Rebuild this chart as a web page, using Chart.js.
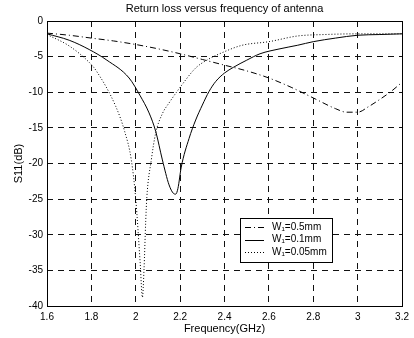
<!DOCTYPE html>
<html>
<head>
<meta charset="utf-8">
<script src="https://cdn.jsdelivr.net/npm/chart.js@4/dist/chart.umd.min.js"></script>
<style>
  html, body { margin: 0; padding: 0; background: #fff; }
  canvas { display: block; }
</style>
</head>
<body>
<canvas id="s11Chart" width="414" height="338"></canvas>
<script>
// values (frequency in GHz, S11 in dB)
const freqW05 = [1.6, 1.7, 1.8, 1.9, 2.0, 2.1, 2.2, 2.3, 2.4, 2.5, 2.6, 2.7, 2.8, 2.9, 2.95, 3.0, 3.05, 3.1, 3.15, 3.2];
const s11W05 = [-1.7, -2.0, -2.4, -2.8, -3.3, -3.9, -4.6, -5.4, -6.2, -7.0, -8.0, -9.3, -10.8, -12.3, -12.8, -12.8, -12.0, -11.0, -9.9, -8.6];

const freqW01 = [1.6, 1.7, 1.79, 1.87, 1.97, 2.02, 2.06, 2.09, 2.12, 2.15, 2.17, 2.18, 2.19, 2.205, 2.24, 2.27, 2.3, 2.33, 2.36, 2.4, 2.44, 2.5, 2.56, 2.65, 2.73, 2.8, 2.9, 3.0, 3.1, 3.2];
const s11W01 = [-1.8, -2.7, -4.0, -5.5, -8.0, -10.5, -12.9, -15.5, -19.5, -23.0, -24.2, -24.3, -23.5, -20.5, -16.5, -13.9, -11.8, -9.9, -8.5, -7.3, -6.5, -5.5, -4.6, -3.9, -3.4, -2.9, -2.4, -2.0, -1.9, -1.8];

const freqW005 = [1.6, 1.7, 1.79, 1.82, 1.91, 1.95, 1.98, 2.0, 2.02, 2.03, 2.037, 2.045, 2.05, 2.07, 2.09, 2.12, 2.15, 2.2, 2.27, 2.32, 2.4, 2.48, 2.6, 2.73, 2.85, 3.0, 3.2];
const s11W005 = [-1.9, -3.5, -5.8, -6.9, -12.0, -15.5, -19.5, -25.0, -34.0, -38.8, -35.0, -28.0, -24.7, -19.5, -15.7, -13.0, -11.5, -9.3, -6.6, -5.5, -4.3, -3.4, -2.9, -2.1, -1.9, -1.8, -1.8];

const seriesLabels = ['W\u2081=0.5mm', 'W\u2081=0.1mm', 'W\u2081=0.05mm'];
const xTicks = [1.6, 1.8, 2.0, 2.2, 2.4, 2.6, 2.8, 3.0, 3.2];
const yTicks = [0, -5, -10, -15, -20, -25, -30, -35, -40];

const FONT = 'Liberation Sans, Arial, Helvetica, sans-serif';

const toPoints = (xs, ys) => xs.map((x, i) => ({ x: x, y: ys[i] }));

// matlab style box round the axes + legend inside the plot
const boxAndLegend = {
  id: 'boxAndLegend',
  afterDraw(chart) {
    const ctx = chart.ctx;
    const a = chart.chartArea;
    ctx.save();
    ctx.strokeStyle = '#000';
    ctx.lineWidth = 1;
    ctx.setLineDash([]);
    ctx.strokeRect(Math.round(a.left) + 0.5, Math.round(a.top) + 0.5,
      Math.round(a.right - a.left), Math.round(a.bottom - a.top));

    // legend
    const lx = 240, ly = 218, lw = 92, lh = 44;
    ctx.fillStyle = '#fff';
    ctx.fillRect(lx, ly, lw, lh);
    ctx.strokeRect(lx + 0.5, ly + 0.5, lw, lh);
    ctx.font = '10px ' + FONT;
    ctx.textBaseline = 'middle';
    chart.data.datasets.forEach((ds, i) => {
      const y = ly + 9 + i * 12.5;
      ctx.strokeStyle = '#000';
      ctx.setLineDash(ds.borderDash || []);
      ctx.beginPath();
      ctx.moveTo(lx + 5, Math.round(y) + 0.5);
      ctx.lineTo(lx + 24, Math.round(y) + 0.5);
      ctx.stroke();
      ctx.setLineDash([]);
      ctx.fillStyle = '#000';
      ctx.fillText(ds.label, lx + 32, y);
    });
    ctx.restore();
  }
};

const lineDataset = (label, xs, ys, dash) => ({
  label: label,
  data: toPoints(xs, ys),
  borderColor: '#000',
  borderWidth: 1,
  borderDash: dash,
  pointRadius: 0,
  fill: false,
  cubicInterpolationMode: 'monotone'
});

new Chart(document.getElementById('s11Chart'), {
  type: 'line',
  data: {
    datasets: [
      lineDataset(seriesLabels[0], freqW05, s11W05, [6, 3, 1, 3]),
      lineDataset(seriesLabels[1], freqW01, s11W01, []),
      lineDataset(seriesLabels[2], freqW005, s11W005, [1, 2])
    ]
  },
  options: {
    responsive: false,
    devicePixelRatio: 1,
    animation: false,
    layout: { padding: { left: 0, right: 10, top: 0, bottom: 0 } },
    plugins: {
      legend: { display: false },
      tooltip: { enabled: false },
      title: {
        display: true,
        text: 'Return loss versus frequency of antenna',
        color: '#000',
        fullSize: false,
        font: { family: FONT, size: 11, weight: 'normal', lineHeight: 1.2 },
        padding: { top: 2, bottom: 5.8 }
      }
    },
    scales: {
      x: {
        type: 'linear',
        min: 1.6,
        max: 3.2,
        afterBuildTicks: (scale) => { scale.ticks = xTicks.map(v => ({ value: v })); },
        afterFit: (scale) => { scale.height = 32; },
        ticks: {
          color: '#000',
          padding: 5,
          maxRotation: 0,
          font: { family: FONT, size: 10 },
          callback: (v) => String(Number(v.toFixed(1)))
        },
        grid: { color: '#111', lineWidth: 1, drawTicks: false },
        border: { display: false, dash: [6, 5] },
        title: {
          display: true,
          text: 'Frequency(GHz)',
          color: '#000',
          font: { family: FONT, size: 11 },
          padding: { top: 0, bottom: 2 }
        }
      },
      y: {
        type: 'linear',
        min: -40,
        max: 0,
        afterBuildTicks: (scale) => { scale.ticks = yTicks.map(v => ({ value: v })); },
        afterFit: (scale) => { scale.width = 47; },
        ticks: {
          color: '#000',
          padding: 4,
          font: { family: FONT, size: 10 },
          callback: (v) => String(v)
        },
        grid: { color: '#111', lineWidth: 1, drawTicks: false },
        border: { display: false, dash: [6, 5] },
        title: {
          display: true,
          text: 'S11(dB)',
          color: '#000',
          font: { family: FONT, size: 11 },
          padding: { top: 12, bottom: 0 }
        }
      }
    }
  },
  plugins: [boxAndLegend]
});
</script>
</body>
</html>
